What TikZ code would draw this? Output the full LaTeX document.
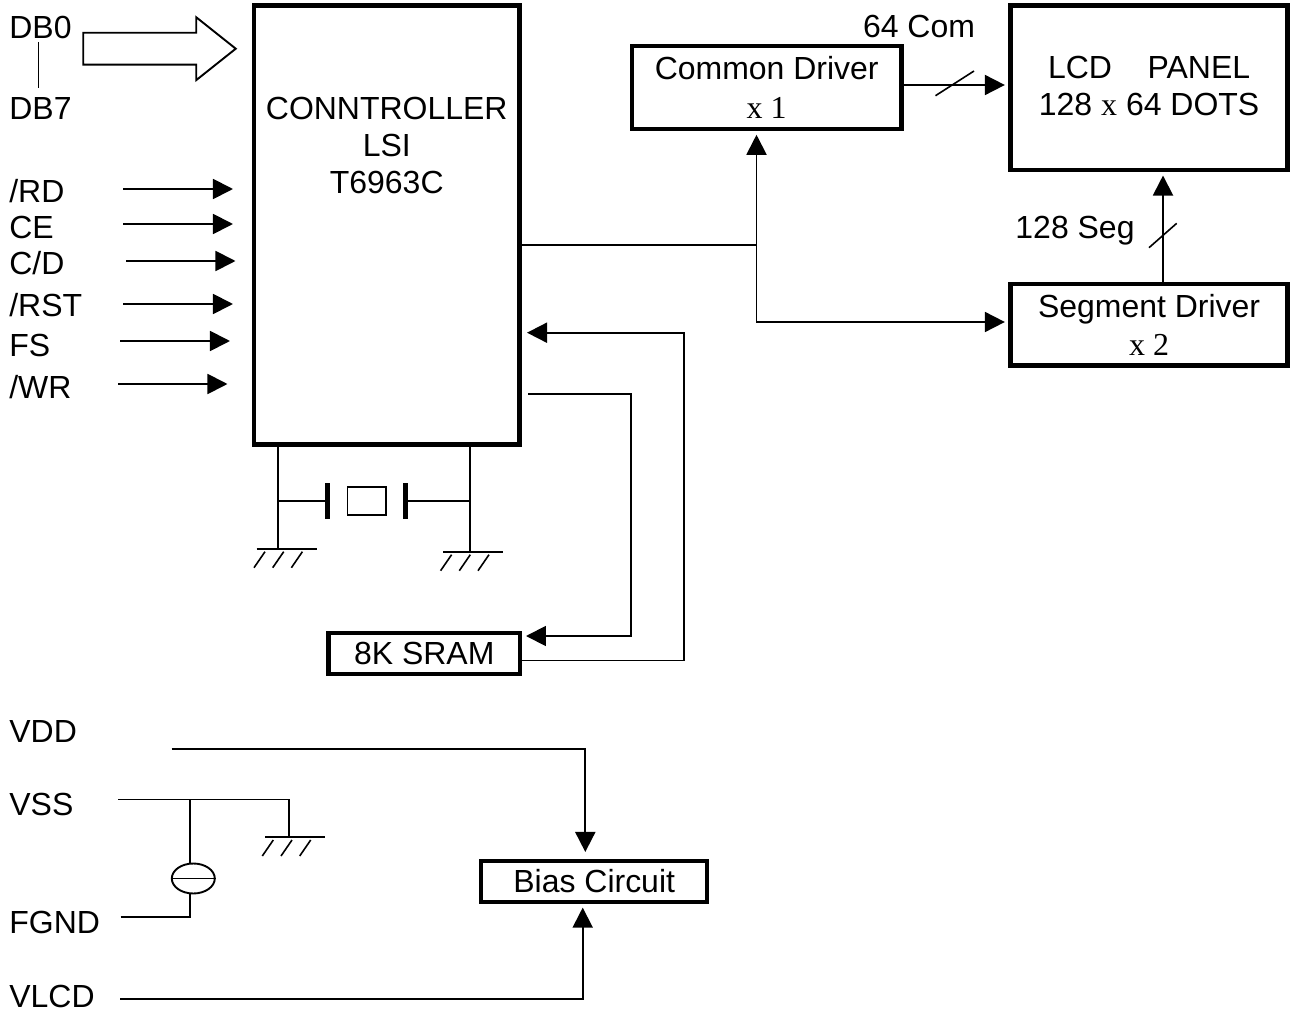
\documentclass[tikz,border=0pt]{standalone}
\usepackage{fontspec}
\setmainfont{Liberation Sans}
\newfontfamily\timesfont{Liberation Serif}
\usepackage{tikz}
\usetikzlibrary{arrows.meta, positioning, shapes.arrows, shapes.geometric}

\begin{document}
\begin{tikzpicture}[x=0.02cm,y=-0.02cm,on grid,font=\fontsize{18.2}{21}\selectfont,
    wire/.style={line width=0.038cm},
    feed/.style={wire,-{Triangle[length=0.4cm,width=0.4cm]},shorten >=2pt},
    slash/.style={line width=0.032cm},
    block/.style={draw,line width=0.09cm,inner sep=0pt,align=center},
    pin/.style={anchor=base west,inner sep=0pt},
    note/.style={anchor=base,inner sep=0pt},
    pics/earth/.style={code={
      \draw[wire] (0,0) -- (60,0);
      \draw[slash] (-2.7,19) -- (8.3,3) (16,19) -- (27,3) (34.7,19) -- (45.7,3);
    }}]
   \useasboundingbox (0,0) rectangle (1291,1013);
   % blocks
   \node[block,minimum width=5.31cm,minimum height=8.78cm,text depth=3.18cm] (ctrl) at (386.75,225) {CONNTROLLER\\LSI\\T6963C};
   \node[block,minimum width=5.39cm,minimum height=1.66cm] (common) [above right=2.75cm and 7.6cm of ctrl] {Common Driver\\[1pt]{\timesfont x 1}};
   \node[block,minimum width=5.54cm,minimum height=3.29cm,text depth=0.08cm] (lcd) [right=7.65cm of common] {LCD\ \ \ \ PANEL\\128 {\timesfont x} 64 DOTS};
   \node[block,minimum width=5.54cm,minimum height=1.63cm] (seg) [below=4.75cm of lcd] {Segment Driver\\[1pt]{\timesfont x 2}};
   \node[block,minimum width=3.84cm,minimum height=0.82cm] (sram) [below right=8.57cm and 0.75cm of ctrl] {8K SRAM};
   \node[block,minimum width=4.52cm,minimum height=0.82cm] (bias) [below right=4.56cm and 3.4cm of sram] {Bias Circuit};
   % pins
   \node[pin] (db0) at (9,38.5) {DB0};
   \node[pin] (db7) at (9,119.5) {DB7};
   \node[pin] (rd) at (9,202.5) {/RD};
   \node[pin] (ce) at (9,238.5) {CE};
   \node[pin] (cd) at (9,274.5) {C/D};
   \node[pin] (rst) at (9,316.5) {/RST};
   \node[pin] (fs) at (9,356.5) {FS};
   \node[pin] (wr) at (9,398.5) {/WR};
   \node[pin] (vdd) at (9,742) {VDD};
   \node[pin] (vss) at (9,815.5) {VSS};
   \node[pin] (fgnd) at (9,933.5) {FGND};
   \node[pin] (vlcd) at (9,1007) {VLCD};
   \node[note] (com) at (919,37.5) {64 Com};
   \node[note] (segs) at (1075,239) {128 Seg};
   % data bus
   \node[draw,wire,single arrow,inner xsep=0pt,inner ysep=0.3cm,minimum height=3.05cm,minimum width=1.22cm,
         single arrow head extend=0.31cm,single arrow tip angle=77] (dbus) at (149.5,48.7) {};
   \coordinate (dbtop) at (38.3,42);
   \coordinate (dbbot) at (38.3,88);
   \draw[slash] (dbtop) -- (dbbot);
   % control inputs
   \coordinate (rdin) at (123,189);
   \coordinate (rdout) at (236.5,189);
   \coordinate (cein) at (123,224);
   \coordinate (ceout) at (236.5,224);
   \coordinate (cdin) at (126,261);
   \coordinate (cdout) at (239,261);
   \coordinate (rstin) at (123,304);
   \coordinate (rstout) at (236.5,304);
   \coordinate (fsin) at (120,341);
   \coordinate (fsout) at (233.5,341);
   \coordinate (wrin) at (118,384);
   \coordinate (wrout) at (231,384);
   \path[feed]
    (rdin) edge (rdout)
    (cein) edge (ceout)
    (cdin) edge (cdout)
    (rstin) edge (rstout)
    (fsin) edge (fsout)
    (wrin) edge (wrout);
   % drivers
   \coordinate (bus) at (756.5,245);
   \draw[wire] (ctrl.east |- bus) -- (bus);
   \draw[feed] (bus) -- (bus |- common.south);
   \draw[feed] (bus) |- (seg.west |- 0,322);
   \coordinate (comout) at (common.east |- 0,85);
   \draw[feed] (comout) -- (lcd.west |- comout);
   \coordinate (segout) at (1163,282);
   \draw[feed] (segout) -- (segout |- lcd.south);
   \coordinate (comta) at (935.5,95.7);
   \coordinate (comtb) at (974,71);
   \coordinate (segta) at (1149,247.7);
   \coordinate (segtb) at (1176.7,223.3);
   \draw[slash] (comta) -- (comtb);
   \draw[slash] (segta) -- (segtb);
   % sram
   \coordinate (wrstart) at (528,394);
   \coordinate (rdback) at (684,660.5);
   \coordinate (rdtip) at (523.5,332.7);
   \draw[feed] (wrstart) -| (631,636) -- (sram.east |- 0,636);
   \draw[wire] (sram.east |- rdback) -- (rdback);
   \draw[feed] (rdback) |- (rdtip);
   % crystal
   \node[draw,slash,minimum width=0.77cm,minimum height=0.56cm] (xtal) at (366.7,500.8) {};
   \node[fill=black,inner sep=0pt,minimum width=0.1cm,minimum height=0.73cm] (platea) [left=0.785cm of xtal] {};
   \node[fill=black,inner sep=0pt,minimum width=0.1cm,minimum height=0.73cm] (plateb) [right=0.77cm of xtal] {};
   \coordinate (gnda) at (278.3,548.7);
   \coordinate (gndb) at (470.3,551.7);
   \pic at (256.7,548.7) {earth};
   \pic at (443.3,551.7) {earth};
   \draw[wire] (gnda |- ctrl.south) -- (gnda);
   \draw[wire] (gndb |- ctrl.south) -- (gndb);
   \draw[wire] (gnda |- platea) -- (platea);
   \draw[wire] (gndb |- plateb) -- (plateb);
   % power
   \coordinate (vddin) at (171.7,749);
   \coordinate (vddtip) at (585.3,855.5);
   \coordinate (vlcdin) at (120,999.3);
   \coordinate (vssin) at (118,799.5);
   \coordinate (vssjoin) at (190,799.5);
   \coordinate (gndc) at (289.3,837);
   \coordinate (fgndin) at (120.7,917);
   \coordinate (fgndjoin) at (190,917);
   \pic at (265,837) {earth};
   \node[draw,wire,ellipse,inner sep=0pt,minimum width=0.86cm,minimum height=0.6cm] (gap) at (193.3,878.5) {};
   \draw[wire] (gap.west) -- (gap.east);
   \draw[feed] (vddin) -| (vddtip);
   \draw[feed] (vlcdin) -| (bias.south -| 582.7,0);
   \draw[wire] (vssin) -| (gndc);
   \draw[wire] (vssjoin) -- (vssjoin |- gap.north);
   \draw[wire] (fgndin) -- (fgndjoin) -- (fgndjoin |- gap.south);
\end{tikzpicture}
\end{document}
